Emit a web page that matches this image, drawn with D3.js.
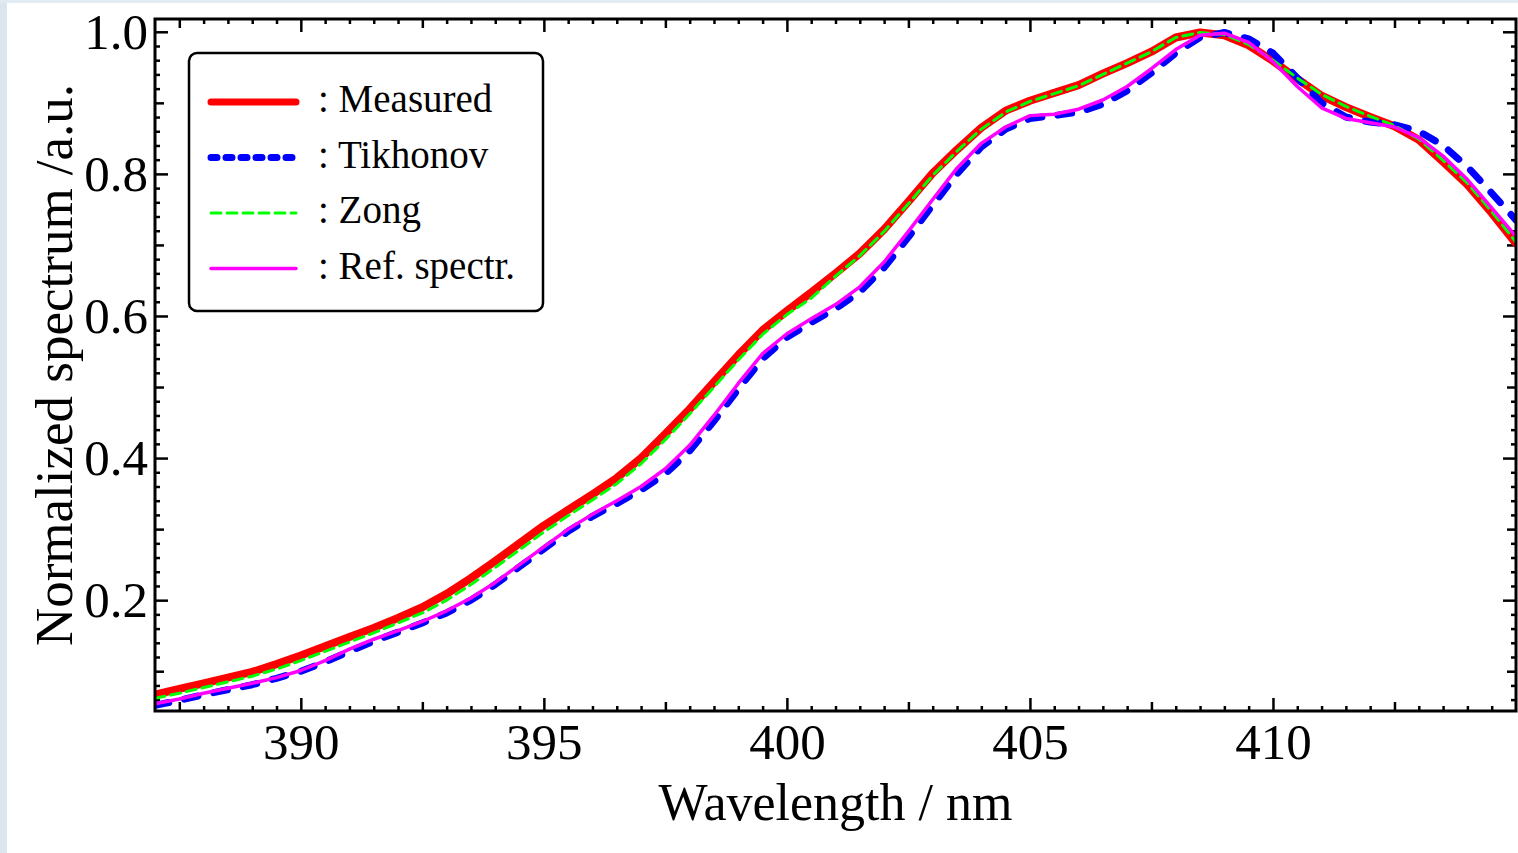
<!DOCTYPE html>
<html><head><meta charset="utf-8">
<script src="https://cdn.jsdelivr.net/npm/d3@7"></script>
<style>
body{margin:0;background:#fff;}
svg{display:block;}
text{font-family:"Liberation Serif","Times New Roman",serif;fill:#000;}
</style>
</head><body>
<svg id="chart" width="1518" height="853"></svg>
<script>
// ---- data ----
const wavelength = [387.0,387.5,388.0,388.5,389.0,389.5,390.0,390.5,391.0,391.5,392.0,392.5,393.0,393.5,394.0,394.5,395.0,395.5,396.0,396.5,397.0,397.5,398.0,398.5,399.0,399.5,400.0,400.5,401.0,401.5,402.0,402.5,403.0,403.5,404.0,404.5,405.0,405.5,406.0,406.5,407.0,407.5,408.0,408.5,409.0,409.5,410.0,410.5,411.0,411.5,412.0,412.5,413.0,413.5,414.0,414.5,415.0];

const measured = [0.067,0.075,0.083,0.091,0.099,0.110,0.122,0.135,0.148,0.161,0.175,0.190,0.209,0.231,0.255,0.280,0.305,0.327,0.349,0.372,0.400,0.434,0.469,0.507,0.545,0.580,0.607,0.633,0.660,0.688,0.722,0.761,0.801,0.834,0.865,0.889,0.903,0.914,0.925,0.941,0.956,0.972,0.992,0.999,0.995,0.981,0.959,0.934,0.910,0.894,0.880,0.867,0.848,0.817,0.785,0.745,0.702];

const tikhonov = [0.052,0.059,0.067,0.074,0.081,0.090,0.100,0.113,0.128,0.142,0.155,0.168,0.182,0.200,0.222,0.247,0.272,0.297,0.318,0.336,0.355,0.378,0.410,0.452,0.497,0.540,0.570,0.591,0.610,0.634,0.668,0.711,0.756,0.800,0.838,0.863,0.878,0.882,0.887,0.898,0.917,0.942,0.970,0.992,0.999,0.990,0.970,0.935,0.900,0.880,0.873,0.869,0.860,0.840,0.810,0.773,0.735];

const zong = [0.062,0.069,0.077,0.085,0.093,0.103,0.115,0.128,0.141,0.154,0.168,0.182,0.200,0.222,0.246,0.271,0.296,0.319,0.341,0.364,0.392,0.426,0.462,0.500,0.538,0.574,0.602,0.625,0.656,0.685,0.719,0.758,0.798,0.832,0.863,0.887,0.902,0.913,0.924,0.940,0.956,0.972,0.992,0.999,0.996,0.982,0.960,0.935,0.912,0.895,0.881,0.868,0.849,0.819,0.787,0.747,0.704];

const refSpectr = [0.054,0.061,0.069,0.076,0.083,0.091,0.101,0.115,0.131,0.145,0.157,0.170,0.185,0.203,0.225,0.250,0.275,0.300,0.321,0.340,0.360,0.385,0.418,0.460,0.505,0.547,0.575,0.596,0.616,0.641,0.676,0.719,0.764,0.808,0.843,0.866,0.882,0.884,0.891,0.904,0.923,0.948,0.975,0.995,0.998,0.985,0.958,0.923,0.893,0.878,0.872,0.866,0.851,0.825,0.792,0.752,0.712];

const seriesNames = [": Measured", ": Tikhonov", ": Zong", ": Ref. spectr."];
const xTickLabels = [390, 395, 400, 405, 410];
const yTickLabels = [0.2, 0.4, 0.6, 0.8, 1.0];
const xTitle = "Wavelength / nm";
const yTitle = "Normalized spectrum /a.u.";

// ---- styles ----
const seriesValues = [measured, tikhonov, zong, refSpectr];
const seriesColors = ["#ff0000", "#0000ff", "#00ff00", "#ff00ff"];
const seriesWidths = [8, 7, 3, 3.5];
const seriesDash = [null, "14,16", "10,6", null];
const legendDash = [null, "6,9", "10,6", null];
const legendWidths = [7, 7, 3, 3.5];

const svg = d3.select("#chart");
const W = 1518, H = 853;
const L = 155, R = 1516, T = 19, B = 711;

// background edge strips
svg.append("rect").attr("x",0).attr("y",0).attr("width",W).attr("height",H).attr("fill","#fff");
svg.append("rect").attr("x",0).attr("y",0).attr("width",7).attr("height",H).attr("fill","#dbe5ee");
svg.append("rect").attr("x",0).attr("y",0).attr("width",W).attr("height",3).attr("fill","#e3ebf2");

const x = d3.scaleLinear().domain([387, 415]).range([L, R]);
const y = d3.scaleLinear().domain([0.044, 1.018]).range([B, T]);

svg.append("defs").append("clipPath").attr("id","clip")
  .append("rect").attr("x",L).attr("y",T).attr("width",R-L).attr("height",B-T);

// ---- ticks ----
const xMedium = [387.5, 392.5, 397.5, 402.5, 407.5, 412.5];
const xMinor = d3.range(387.5, 415, 0.5).filter(v => Math.abs(v/2.5 - Math.round(v/2.5)) > 1e-6);
const yMedium = [0.1, 0.3, 0.5, 0.7, 0.9];
const yMinor = d3.range(0.06, 1.01, 0.02).filter(v => Math.abs(v*10 - Math.round(v*10)) > 1e-6);

function styleAxis(g){
  g.select(".domain").remove();
  g.selectAll(".tick line").attr("stroke","#000").attr("stroke-width",2.5);
  g.selectAll(".tick text").style("font-size","51px").style("font-family",'"Liberation Serif","Times New Roman",serif').attr("fill","#000");
}
function addAxis(gen, tr){ svg.append("g").attr("transform",tr).call(gen).call(styleAxis); }

// bottom
addAxis(d3.axisBottom(x).tickValues(xTickLabels).tickSizeInner(-13).tickSizeOuter(0).tickPadding(12).tickFormat(d3.format("d")), `translate(0,${B})`);
addAxis(d3.axisBottom(x).tickValues(xMedium).tickSizeInner(-9).tickSizeOuter(0).tickFormat(""), `translate(0,${B})`);
addAxis(d3.axisBottom(x).tickValues(xMinor).tickSizeInner(-5).tickSizeOuter(0).tickFormat(""), `translate(0,${B})`);
// top
addAxis(d3.axisTop(x).tickValues(xTickLabels).tickSizeInner(-13).tickSizeOuter(0).tickFormat(""), `translate(0,${T})`);
addAxis(d3.axisTop(x).tickValues(xMedium).tickSizeInner(-9).tickSizeOuter(0).tickFormat(""), `translate(0,${T})`);
addAxis(d3.axisTop(x).tickValues(xMinor).tickSizeInner(-5).tickSizeOuter(0).tickFormat(""), `translate(0,${T})`);
// left
addAxis(d3.axisLeft(y).tickValues(yTickLabels).tickSizeInner(-13).tickSizeOuter(0).tickPadding(7).tickFormat(d3.format(".1f")), `translate(${L},0)`);
addAxis(d3.axisLeft(y).tickValues(yMedium).tickSizeInner(-9).tickSizeOuter(0).tickFormat(""), `translate(${L},0)`);
addAxis(d3.axisLeft(y).tickValues(yMinor).tickSizeInner(-5).tickSizeOuter(0).tickFormat(""), `translate(${L},0)`);
// right
addAxis(d3.axisRight(y).tickValues(yTickLabels).tickSizeInner(-13).tickSizeOuter(0).tickFormat(""), `translate(${R},0)`);
addAxis(d3.axisRight(y).tickValues(yMedium).tickSizeInner(-9).tickSizeOuter(0).tickFormat(""), `translate(${R},0)`);
addAxis(d3.axisRight(y).tickValues(yMinor).tickSizeInner(-5).tickSizeOuter(0).tickFormat(""), `translate(${R},0)`);

// ---- curves ----
const line = d3.line().x((d,i) => x(wavelength[i])).y(d => y(d));
const plot = svg.append("g").attr("clip-path","url(#clip)");
seriesValues.forEach((vals, k) => {
  plot.append("path").datum(vals)
    .attr("d", line)
    .attr("fill","none")
    .attr("stroke", seriesColors[k])
    .attr("stroke-width", seriesWidths[k])
    .attr("stroke-linejoin","round")
    .attr("stroke-linecap","round")
    .attr("stroke-dasharray", seriesDash[k]);
});

// frame
svg.append("rect").attr("x",L).attr("y",T).attr("width",R-L).attr("height",B-T)
  .attr("fill","none").attr("stroke","#000").attr("stroke-width",3);

// axis titles
svg.append("text").attr("x",(L+R)/2).attr("y",820).attr("text-anchor","middle")
  .style("font-size","52px").text(xTitle);
svg.append("text").attr("transform",`translate(72,${(T+B)/2}) rotate(-90)`).attr("text-anchor","middle")
  .style("font-size","53px").text(yTitle);

// ---- legend ----
const lg = svg.append("g");
lg.append("rect").attr("x",189).attr("y",53).attr("width",354).attr("height",258).attr("rx",8)
  .attr("fill","#fff").attr("stroke","#000").attr("stroke-width",2.5);
seriesNames.forEach((name, k) => {
  const yy = 102 + k*55.5;
  lg.append("line").attr("x1",211).attr("x2",296).attr("y1",yy).attr("y2",yy)
    .attr("stroke",seriesColors[k]).attr("stroke-width",legendWidths[k])
    .attr("stroke-linecap","round").attr("stroke-dasharray",legendDash[k]);
  lg.append("text").attr("x",318).attr("y",yy+10).style("font-size","39px").text(name);
});
</script>
</body></html>
